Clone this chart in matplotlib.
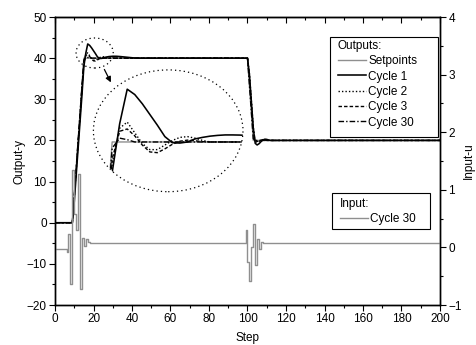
import numpy as np
import matplotlib
matplotlib.use("Agg")
import matplotlib.pyplot as plt
from matplotlib.patches import Ellipse, Rectangle
from matplotlib.ticker import MultipleLocator

plt.rcParams['font.family'] = ['Liberation Sans', 'DejaVu Sans']
plt.rcParams['font.size'] = 8.5

# ---------------- data ----------------
N_STEPS = 201
RISE_START = 9      # first step of the set-point change 0 -> 40
FALL_START = 100    # first step of the set-point change 40 -> 20
U_RISE_START = 6
U_FALL_START = 99

SP_RISE = [0, 6.7, 13.3, 20, 26.7, 33.3, 40]
SP_FALL = [40, 33.3, 26.7, 20]

C1_RISE = [0, 5.0, 11.5, 18.0, 24.5, 31.0, 38.0, 41.2, 43.45, 43.1, 42.5, 41.8,
           41.1, 40.35, 39.95, 39.93, 40.0, 40.2, 40.3, 40.38, 40.43, 40.46,
           40.46, 40.45, 40.42, 40.38, 40.33, 40.28, 40.22, 40.17, 40.12, 40.08,
           40.05, 40.03, 40.01]
C1_FALL = [40, 36.0, 29.5, 23.0, 19.3, 18.9, 19.2, 19.7, 20.1, 20.3, 20.25, 20.1, 20.0]

C2_RISE = [0, 6.0, 12.5, 19.0, 25.8, 32.5, 38.6, 40.9, 41.3, 40.6, 39.9, 39.5,
           39.5, 39.8, 40.1, 40.3, 40.35, 40.25, 40.1, 40.0]
C2_FALL = [40, 36.2, 29.8, 23.3, 19.7, 19.5, 19.75, 20.05, 20.2, 20.1, 20.0]

C3_RISE = [0, 6.3, 12.9, 19.5, 26.2, 32.8, 38.9, 40.7, 40.85, 40.4, 39.8, 39.35,
           39.3, 39.55, 39.85, 40.05, 40.12, 40.08, 40.02, 40.0]
C3_FALL = [40, 35.5, 29.0, 22.5, 19.9, 19.75, 19.9, 20.05, 20.05, 20.0]

C30_RISE = [0, 6.6, 13.2, 19.9, 26.5, 33.2, 39.6, 40.25, 40.15, 40.0]
C30_FALL = [40, 33.6, 27.0, 20.4, 20.0]

U_PRE = -0.02
U_RISE = [-0.085, 0.24, -0.64, 1.35, 0.58, 0.30, 1.28, -0.73, 0.16, 0.03, 0.14, 0.09, 0.07]
U_MID = 0.07
U_FALL = [0.3, -0.25, -0.58, 0.0, 0.4, -0.3, 0.15, -0.02, 0.1]
U_POST = 0.07

steps = np.arange(N_STEPS)


def build(pre, rise, rs, mid, fall, fs, post):
    y = np.full(N_STEPS, float(post))
    y[:rs] = pre
    y[rs:rs + len(rise)] = rise
    y[rs + len(rise):fs] = mid
    y[fs:fs + len(fall)] = fall
    return y


sp = build(0, SP_RISE, RISE_START, 40, SP_FALL, FALL_START, 20)
c1 = build(0, C1_RISE, RISE_START, 40, C1_FALL, FALL_START, 20)
c2 = build(0, C2_RISE, RISE_START, 40, C2_FALL, FALL_START, 20)
c3 = build(0, C3_RISE, RISE_START, 40, C3_FALL, FALL_START, 20)
c30 = build(0, C30_RISE, RISE_START, 40, C30_FALL, FALL_START, 20)
u30 = build(U_PRE, U_RISE, U_RISE_START, U_MID, U_FALL, U_FALL_START, U_POST)

GREY = '#8f8f8f'
styles = [
    ('Setpoints', sp, dict(color=GREY, lw=1.0, ls='-', zorder=2)),
    ('Cycle 1', c1, dict(color='k', lw=1.15, ls='-', zorder=3)),
    ('Cycle 2', c2, dict(color='k', lw=1.0, ls=(0, (1, 1.5)), zorder=3)),
    ('Cycle 3', c3, dict(color='k', lw=1.0, ls=(0, (2.5, 1.5)), zorder=3)),
    ('Cycle 30', c30, dict(color='k', lw=1.0, ls=(0, (4, 1.5, 1, 1.5)), zorder=3)),
]

# ---------------- figure ----------------
W, H = 477, 345
AX_L, AX_R, AX_T, AX_B = 55, 440, 17, 305
fig = plt.figure(figsize=(W / 100, H / 100), dpi=100)
ax = fig.add_axes([AX_L / W, (H - AX_B) / H, (AX_R - AX_L) / W, (AX_B - AX_T) / H])
ax2 = ax.twinx()


def fx(px):
    return (px - AX_L) / (AX_R - AX_L)


def fy(py):
    return (AX_B - py) / (AX_B - AX_T)


lines = []
for lab, y, st in styles:
    ln, = ax.plot(steps, y, label=lab, **st)
    lines.append(ln)

uline, = ax2.step(steps, u30, where='post', color=GREY, lw=1.0, label='Cycle 30')

ax.set_xlim(0, 200)
ax.set_ylim(-20, 50)
ax2.set_ylim(-1, 4)
ax.xaxis.set_major_locator(MultipleLocator(20))
ax.xaxis.set_minor_locator(MultipleLocator(10))
ax.yaxis.set_major_locator(MultipleLocator(10))
ax.yaxis.set_minor_locator(MultipleLocator(5))
ax2.yaxis.set_major_locator(MultipleLocator(1))
ax2.yaxis.set_minor_locator(MultipleLocator(0.5))

ax.tick_params(axis='x', which='both', direction='out', labelsize=8.5, pad=2)
ax.tick_params(axis='x', which='major', length=4, width=0.8)
ax.tick_params(axis='x', which='minor', length=2, width=0.8)
ax.tick_params(axis='y', which='major', direction='out', length=4, width=0.8, labelsize=8.5, pad=2)
ax.tick_params(axis='y', which='minor', direction='out', length=2, width=0.8)
ax2.tick_params(axis='y', which='major', direction='out', length=4, width=0.8, labelsize=8.5, pad=2)
ax2.tick_params(axis='y', which='minor', direction='out', length=2, width=0.8)

top = ax.secondary_xaxis('top')
top.xaxis.set_major_locator(MultipleLocator(20))
top.xaxis.set_minor_locator(MultipleLocator(10))
top.tick_params(axis='x', which='both', direction='in', labeltop=False, width=0.8)
top.tick_params(axis='x', which='major', length=4)
top.tick_params(axis='x', which='minor', length=2)

for a in (ax, ax2):
    for s in a.spines.values():
        s.set_linewidth(1.0)

ax.set_xlabel('Step', fontsize=8.5, labelpad=5)
ax.set_ylabel('Output-y', fontsize=8.5, labelpad=1)
ax2.set_ylabel('Input-u', fontsize=8.5, labelpad=1)

# ---------------- zoom decorations ----------------
big = Ellipse((58.8, 22.34), 77.7, 29.6, fill=False, edgecolor='k', lw=0.9,
              ls=(0, (1, 2.5)), zorder=4)
small = Ellipse((20.6, 41.25), 19.3, 7.3, fill=False, edgecolor='k', lw=0.9,
                ls=(0, (1, 2.5)), zorder=4)
ax.add_patch(big)
ax.add_patch(small)
ax.annotate('', xy=(29.7, 33.5), xytext=(25.0, 37.85),
            arrowprops=dict(arrowstyle='-|>', color='k', lw=0.9, mutation_scale=8))

ins = ax.inset_axes([58.8 - 77.7 / 2, 22.34 - 29.6 / 2, 77.7, 29.6], transform=ax.transData)
ins.set_xlim(12.51, 32.37)
ins.set_ylim(36.75, 44.71)
ins.set_axis_off()
ins.patch.set_alpha(0)
for lab, y, st in styles:
    ln, = ins.plot(steps, y, **st)
    ln.set_clip_path(big)

# ---------------- legends (frames drawn separately) ----------------
leg_kw = dict(frameon=False, borderaxespad=0, borderpad=0, handlelength=2.35,
              handletextpad=0.2, labelspacing=0.28, fontsize=8.5,
              title_fontsize=8.5, alignment='left', loc='upper left')

ax.add_patch(Rectangle((fx(330), fy(137)), fx(438) - fx(330), fy(37) - fy(137),
                       transform=ax.transAxes, fill=True, facecolor='white',
                       edgecolor='k', lw=0.8, zorder=9))
leg1 = ax.legend(handles=lines, title='Outputs:', bbox_to_anchor=(fx(338), fy(40)), **leg_kw)
leg1.set_zorder(10)

ax2.add_patch(Rectangle((fx(332), fy(229)), fx(430) - fx(332), fy(193) - fy(229),
                        transform=ax2.transAxes, fill=True, facecolor='white',
                        edgecolor='k', lw=0.8, zorder=9))
leg2 = ax2.legend(handles=[uline], title='Input:', bbox_to_anchor=(fx(340), fy(198)), **leg_kw)
leg2.set_zorder(10)

fig.savefig('out.png', dpi=100)
